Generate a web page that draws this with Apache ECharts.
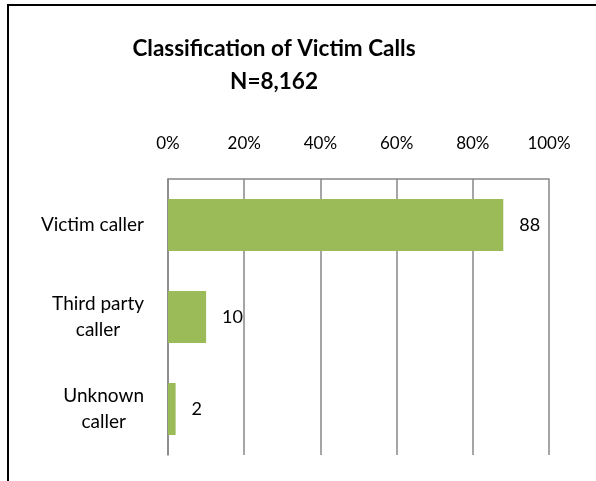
<!DOCTYPE html>
<html>
<head>
<meta charset="utf-8">
<script src="https://cdn.jsdelivr.net/npm/echarts@6/dist/echarts.min.js"></script>
<style>
  html, body { margin: 0; padding: 0; background: #fff; }
  #chart { width: 596px; height: 481px; }
</style>
</head>
<body>
<div id="chart"></div>
<script>
// data
var categories = ['Victim caller', 'Third party\ncaller', 'Unknown\ncaller'];
var values = [88, 10, 2];
var xTicks = [0, 20, 40, 60, 80, 100];

var font = 'Lato, "Open Sans", sans-serif';
var gridColor = '#878787';

var myChart = echarts.init(document.getElementById('chart'));

myChart.setOption({
  animation: false,
  textStyle: { fontFamily: font },
  title: {
    text: 'Classification of Victim Calls\nN=8,162',
    left: 269,
    top: 27,
    textAlign: 'center',
    textStyle: {
      fontFamily: font,
      fontSize: 22.5,
      fontWeight: 'bold',
      color: '#000',
      lineHeight: 33
    }
  },
  graphic: [
    {
      // chart frame (right and bottom fall outside the crop)
      type: 'polyline',
      shape: { points: [[8, 490], [8, 5], [600, 5]] },
      style: { stroke: '#000', lineWidth: 2, fill: null }
    }
  ],
  grid: {
    left: 168,
    right: 47,
    top: 179,
    bottom: 26
  },
  xAxis: {
    type: 'value',
    position: 'top',
    min: xTicks[0],
    max: xTicks[xTicks.length - 1],
    interval: 20,
    axisLine: { show: true, lineStyle: { color: gridColor, width: 1.5 } },
    axisTick: { show: false },
    axisLabel: {
      margin: 27,
      fontSize: 17,
      color: '#000',
      formatter: '{value}%'
    },
    splitLine: { show: true, lineStyle: { color: gridColor, width: 1.5 } }
  },
  yAxis: {
    type: 'category',
    inverse: true,
    data: categories,
    axisLine: { show: true, lineStyle: { color: gridColor, width: 1.5 } },
    axisTick: { show: false },
    axisLabel: {
      margin: 24,
      color: '#000',
      formatter: function (v) {
        return v.split('\n').map(function (s) { return '{a|' + s + '}'; }).join('\n');
      },
      rich: {
        a: { align: 'center', fontSize: 19, lineHeight: 26, color: '#000', fontFamily: font }
      }
    }
  },
  series: [
    {
      type: 'bar',
      data: values,
      barWidth: 52,
      itemStyle: { color: '#9BBB59' },
      label: {
        show: true,
        position: 'right',
        distance: 16,
        fontSize: 18,
        color: '#000',
        fontFamily: font
      }
    }
  ]
});
</script>
</body>
</html>
